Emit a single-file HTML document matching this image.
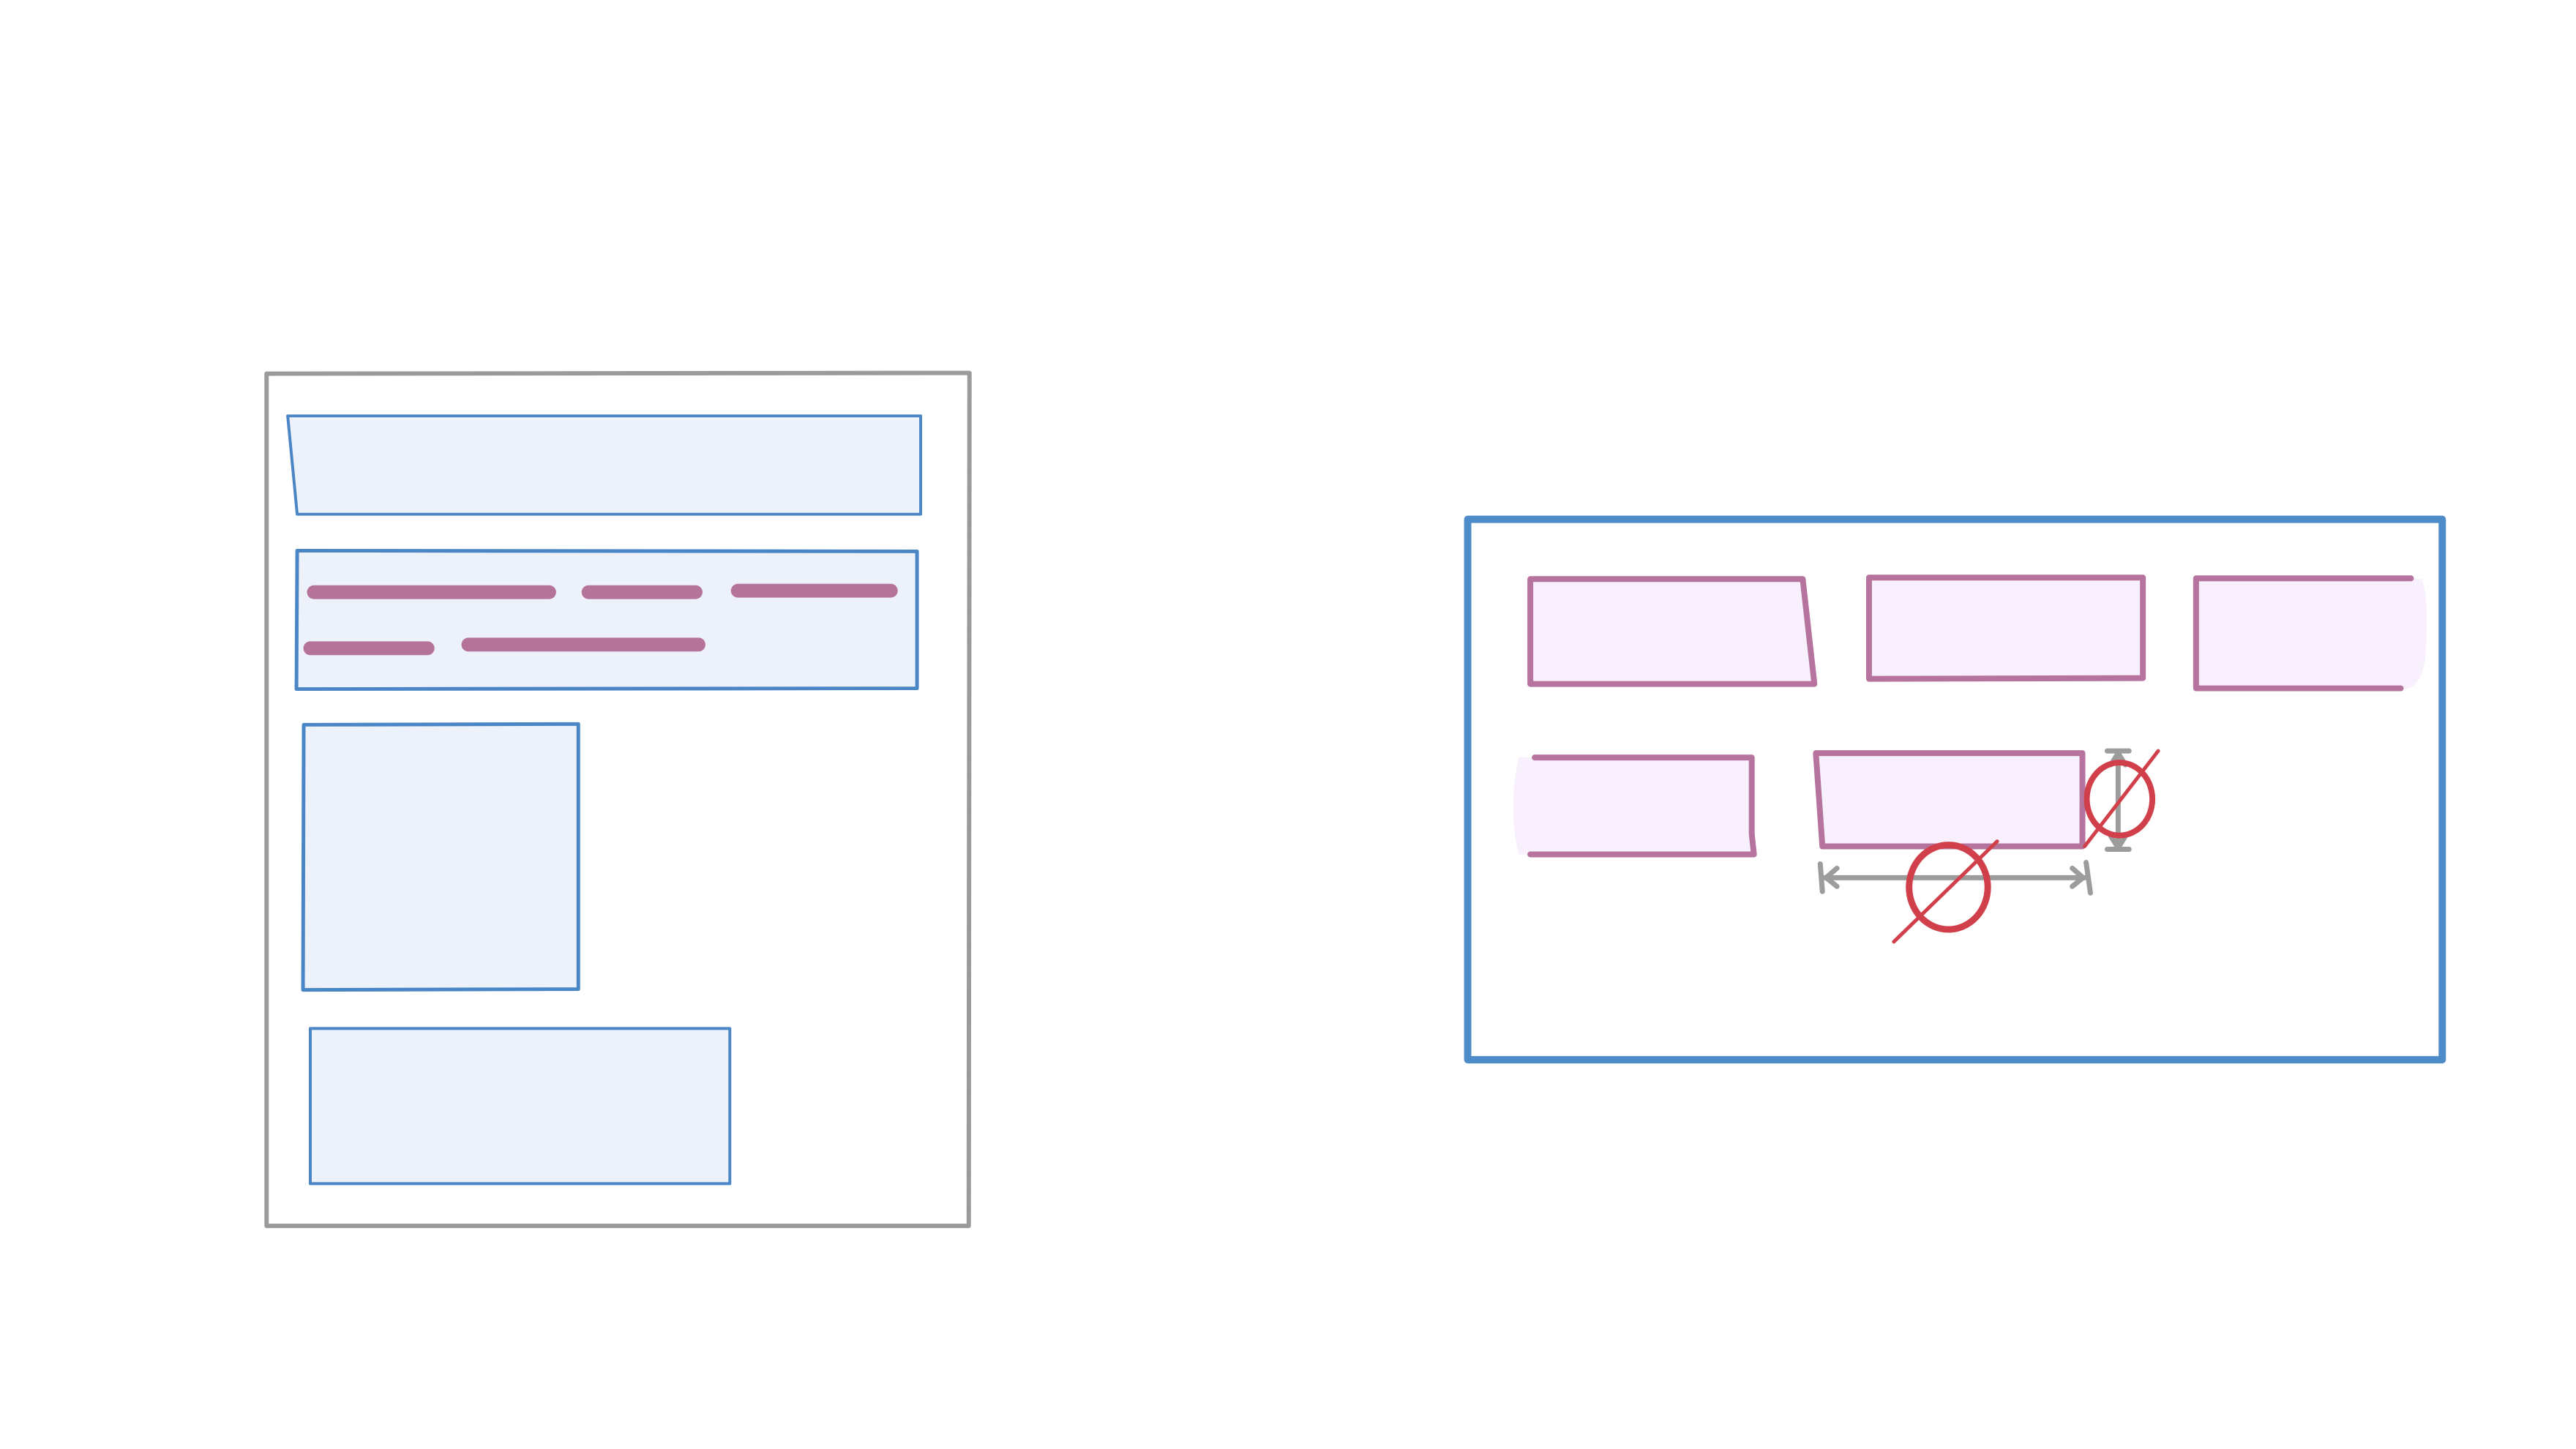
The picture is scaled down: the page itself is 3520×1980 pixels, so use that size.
<!DOCTYPE html>
<html><head><meta charset="utf-8"><style>html,body{margin:0;padding:0;background:#fff}svg{display:block}</style></head>
<body>
<svg width="3520" height="1980" viewBox="0 0 3520 1980" xmlns="http://www.w3.org/2000/svg">
<g transform="scale(0.9953)">
<g stroke-linejoin="round" stroke-linecap="round">
  <path d="M366 513 L1331 512 L1330 1683 L366 1683 Z" fill="#fff" stroke="#9a9a9a" stroke-width="6"/>
  <path d="M395 571 L1264 571 L1264 706 L408 706 Z" fill="#edf2fa" stroke="#4a86c5" stroke-width="4"/>
  <path d="M408 756 L1259 757 L1259 945 L407 946 Z" fill="#edf2fa" stroke="#4a86c5" stroke-width="5"/>
  <g stroke="#b5739a" stroke-width="19">
    <line x1="431" y1="813" x2="754" y2="813"/>
    <line x1="808" y1="813" x2="955" y2="813"/>
    <line x1="1013" y1="811" x2="1223" y2="811"/>
    <line x1="426" y1="890" x2="587" y2="890"/>
    <line x1="643" y1="885" x2="959" y2="885"/>
  </g>
  <path d="M417 995 L794 994 L794 1358 L416 1359 Z" fill="#edf2fa" stroke="#4a86c5" stroke-width="5"/>
  <path d="M426 1412 L1002 1412 L1002 1625 L426 1625 Z" fill="#edf2fa" stroke="#4a86c5" stroke-width="4"/>
</g>
<g stroke-linejoin="round" stroke-linecap="round">
  <rect x="2015" y="713" width="1338" height="742" fill="#fff" stroke="#4d8bc9" stroke-width="10"/>
  <g stroke="#b5739d" stroke-width="8" fill="#f8f0fc">
    <path d="M2101 795 L2475 795 L2491 939 L2101 939 Z"/>
    <path d="M2566 793 L2942 793 L2942 931 L2566 932 Z"/>
    <path d="M3015 795 L3325 795 Q3335 820 3330 900 Q3325 945 3300 946 L3015 945 Z" stroke="none"/>
    <path d="M3310 794 L3015 794 L3015 945 L3296 945" fill="none"/>
    <path d="M2085 1040 L2405 1040 L2405 1173 L2085 1173 Q2070 1110 2085 1040 Z" stroke="none"/>
    <path d="M2107 1040 L2405 1040 L2405 1145 L2408 1173 L2101 1173" fill="none"/>
    <path d="M2493 1034 L2859 1034 L2859 1162 L2502 1162 Z"/>
  </g>
  <g stroke="#9c9c9c" stroke-width="7" fill="none">
    <line x1="2505" y1="1205" x2="2862" y2="1205"/>
    <path d="M2522 1192 L2507 1205 L2522 1217"/>
    <path d="M2845 1192 L2860 1205 L2845 1217"/>
    <line x1="2499" y1="1186" x2="2502" y2="1224"/>
    <line x1="2864" y1="1184" x2="2870" y2="1226"/>
    <line x1="2908" y1="1034" x2="2908" y2="1164"/>
    <line x1="2893" y1="1031" x2="2923" y2="1031"/>
    <line x1="2893" y1="1166" x2="2923" y2="1166"/>
    <path d="M2898 1050 L2908 1034 L2918 1050"/>
    <path d="M2898 1148 L2908 1164 L2918 1148"/>
  </g>
  <g stroke="#d1404a" fill="none" stroke-linecap="round">
    <ellipse cx="2675" cy="1218" rx="54" ry="58" stroke-width="9"/>
    <line x1="2600" y1="1293" x2="2742" y2="1155" stroke-width="5"/>
    <ellipse cx="2910" cy="1097" rx="45" ry="50" stroke-width="8"/>
    <line x1="2862" y1="1162" x2="2963" y2="1031" stroke-width="5"/>
  </g>
</g>
</g>
</svg>
</body></html>
